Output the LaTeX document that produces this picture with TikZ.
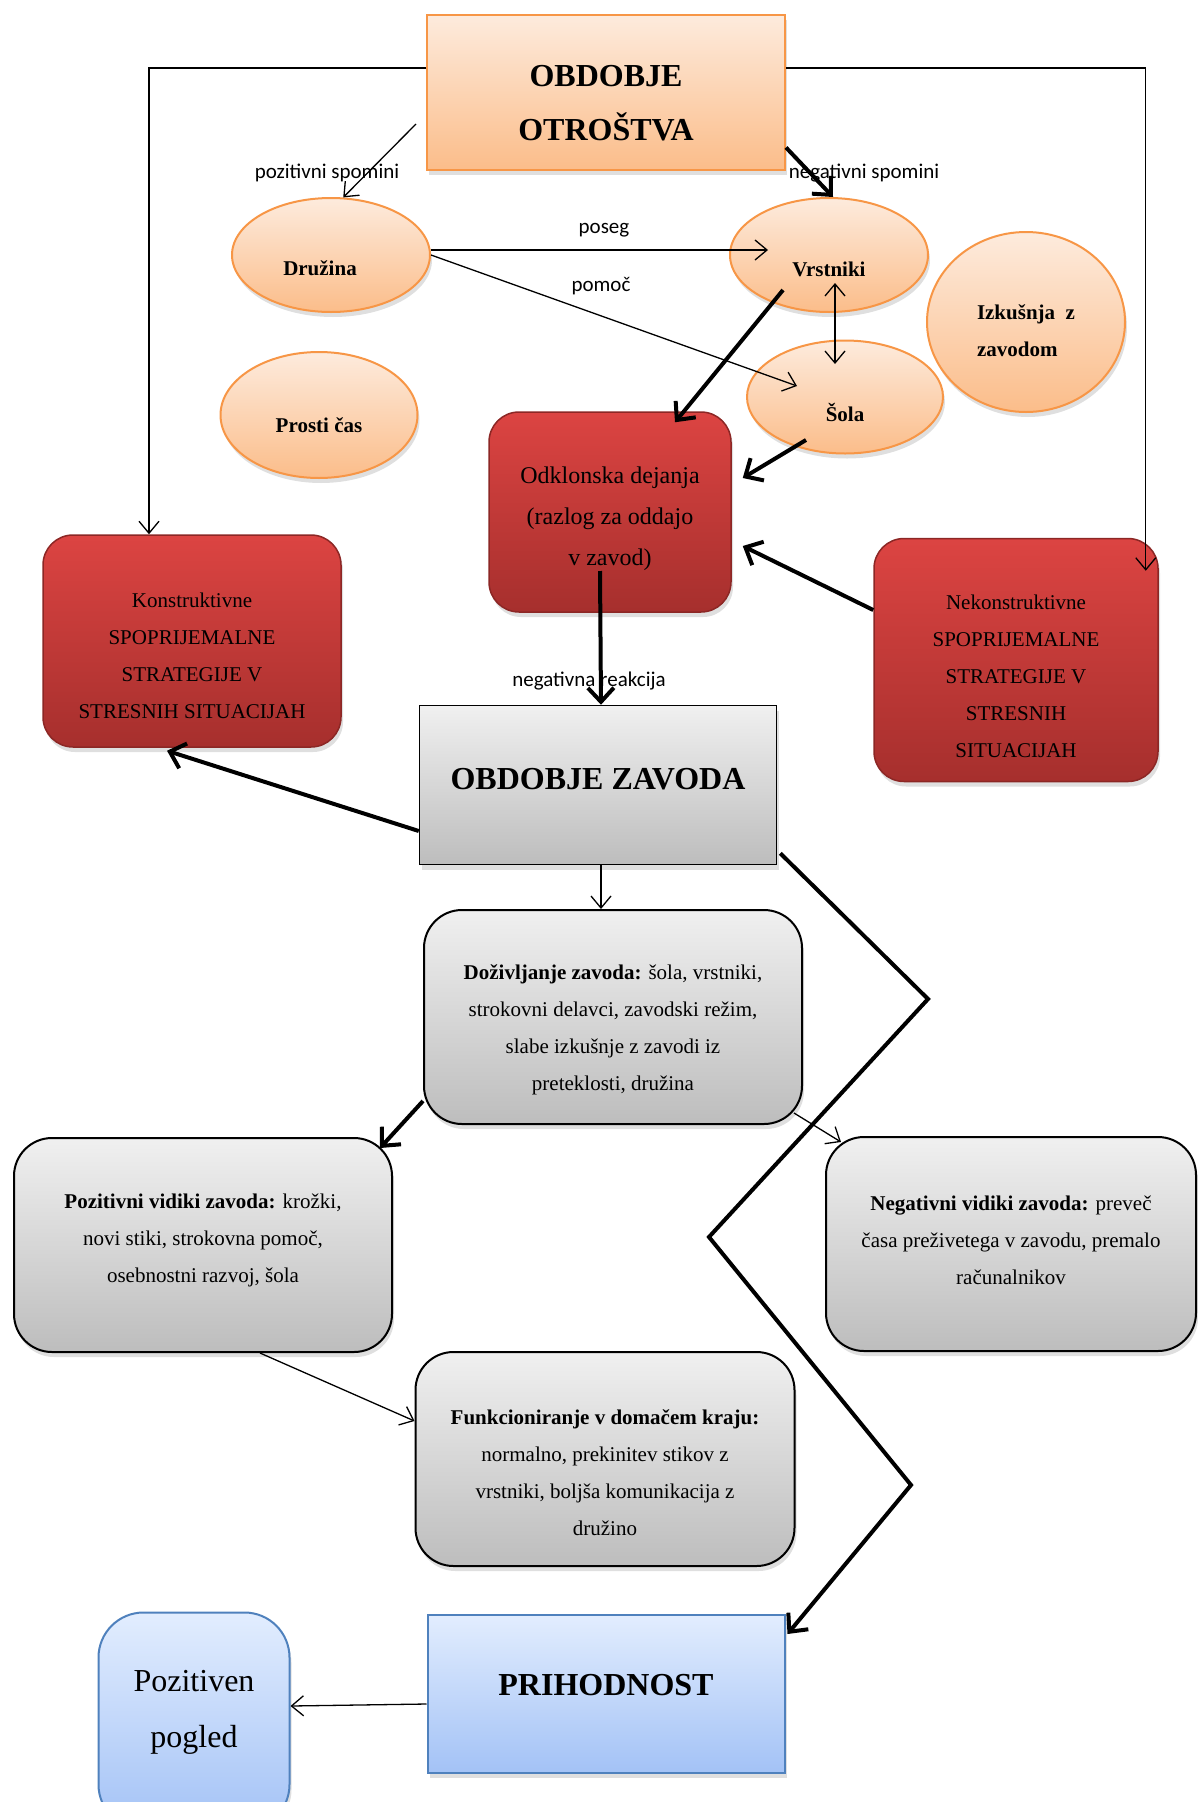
\documentclass[tikz,border=0pt]{standalone}
\usepackage{fontspec}
\setmainfont{Liberation Serif}
\newfontfamily\lblfont{Carlito}
\usetikzlibrary{shapes.geometric,arrows.meta,shadows}
\definecolor{orangetop}{HTML}{FDEBDD}
\definecolor{orangebot}{HTML}{FBBD8A}
\definecolor{orangeline}{HTML}{F79646}
\definecolor{redtop}{HTML}{DC4442}
\definecolor{redbot}{HTML}{A62F2D}
\definecolor{redline}{HTML}{8C2725}
\definecolor{graytop}{HTML}{F0F0F0}
\definecolor{graybot}{HTML}{BDBDBD}
\definecolor{bluetop}{HTML}{E2EDFE}
\definecolor{bluebot}{HTML}{A3C2F6}
\definecolor{blueline}{HTML}{4F81BD}

\begin{document}
\begin{tikzpicture}[x=1pt,y=-1pt,
    shadowed/.style={drop shadow={opacity=0.25,shadow xshift=2pt,shadow yshift=-5pt}},
    orangeell/.style={ellipse,draw=orangeline,line width=2pt,top color=orangetop,bottom color=orangebot,inner sep=0pt,shadowed},
    orangebox/.style={rectangle,draw=orangeline,line width=2pt,top color=orangetop,bottom color=orangebot,inner sep=0pt,shadowed},
    redbox/.style={rectangle,rounded corners=30pt,draw=redline,line width=1.5pt,top color=redtop,bottom color=redbot,inner sep=0pt,shadowed},
    graybox/.style={rectangle,rounded corners=38pt,draw=black,line width=2pt,top color=graytop,bottom color=graybot,inner sep=0pt,shadowed},
    grayrect/.style={rectangle,draw=black,line width=1.5pt,top color=graytop,bottom color=graybot,inner sep=0pt,shadowed},
    bluebox/.style={rectangle,draw=blueline,line width=2pt,top color=bluetop,bottom color=bluebot,inner sep=0pt,shadowed},
    elltxt/.style={font=\bfseries\fontsize{21}{37}\selectfont,align=center},
    boxtxt/.style={font=\fontsize{21}{37}\selectfont,align=center},
    bigtxt/.style={font=\bfseries\fontsize{32}{54}\selectfont,align=center},
    lbl/.style={font=\lblfont\fontsize{21}{25}\selectfont,inner sep=0pt},
    thinarr/.style={line width=1.3pt,-{Straight Barb[length=12pt,width=20pt]}},
    thinboth/.style={line width=1.3pt,{Straight Barb[length=12pt,width=20pt]}-{Straight Barb[length=12pt,width=20pt]}},
    thickarr/.style={line width=4pt,-{Straight Barb[length=14pt,width=26pt]}}]
\useasboundingbox (0,0) rectangle (1197,1802);

% obdobje otrostva
\node[orangebox,minimum width=358pt,minimum height=155pt,label={[bigtxt,yshift=-11pt]center:{OBDOBJE\\OTROŠTVA}}] (otrostva) at (606,92) {};
\node[orangeell,minimum width=198pt,minimum height=114pt,label={[elltxt,xshift=-11pt,yshift=-13pt]center:{Družina}}] (druzina) at (331,255) {};
\node[orangeell,minimum width=198pt,minimum height=114pt,label={[elltxt,yshift=-14pt]center:{Vrstniki}}] (vrstniki) at (829,255) {};
\node[orangeell,minimum width=198pt,minimum height=180pt,label={[elltxt,align=left,yshift=-9pt]center:{Izkušnja~~z\\zavodom}}] (izkusnja) at (1026,322) {};
\node[orangeell,minimum width=196pt,minimum height=113pt,label={[elltxt,yshift=-15pt]center:{Šola}}] (sola) at (845,397) {};
\node[orangeell,minimum width=197pt,minimum height=126pt,label={[elltxt,yshift=-10pt]center:{Prosti čas}}] (prosti) at (319,415) {};

\node[redbox,minimum width=242pt,minimum height=200pt,label={[boxtxt,font=\fontsize{24}{41}\selectfont,yshift=-7pt]center:{Odklonska dejanja\\(razlog za oddajo\\v zavod)}}] (odklon) at (610,512) {};
\node[redbox,minimum width=298pt,minimum height=212pt,label={[boxtxt,yshift=-15pt]center:{Konstruktivne\\SPOPRIJEMALNE\\STRATEGIJE V\\STRESNIH SITUACIJAH}}] (konstr) at (192,641) {};
\node[redbox,minimum width=284pt,minimum height=243pt,label={[boxtxt,yshift=-16pt]center:{Nekonstruktivne\\SPOPRIJEMALNE\\STRATEGIJE V\\STRESNIH\\SITUACIJAH}}] (nekonstr) at (1016,660) {};

% obdobje zavoda
\node[grayrect,minimum width=357pt,minimum height=159pt,label={[bigtxt,yshift=6pt]center:{OBDOBJE ZAVODA}}] (zavod) at (598,785) {};
\node[graybox,minimum width=378pt,minimum height=214pt,label={[boxtxt,yshift=-13pt]center:{\textbf{Doživljanje zavoda:} šola, vrstniki,\\strokovni delavci, zavodski režim,\\slabe izkušnje z zavodi iz\\preteklosti, družina}}] (doziv) at (613,1017) {};
\node[graybox,minimum width=378pt,minimum height=214pt,label={[boxtxt,yshift=5pt]center:{\textbf{Pozitivni vidiki zavoda:} krožki,\\novi stiki, strokovna pomoč,\\osebnostni razvoj, šola}}] (pozvid) at (203,1245) {};
\node[graybox,minimum width=370pt,minimum height=214pt,label={[boxtxt,yshift=4pt]center:{\textbf{Negativni vidiki zavoda:} preveč\\časa preživetega v zavodu, premalo\\računalnikov}}] (negvid) at (1011,1244) {};
\node[graybox,minimum width=379pt,minimum height=214pt,label={[boxtxt,yshift=-14pt]center:{\textbf{Funkcioniranje v domačem kraju:}\\normalno, prekinitev stikov z\\vrstniki, boljša komunikacija z\\družino}}] (funk) at (605,1459) {};

% prihodnost
\node[bluebox,minimum width=357pt,minimum height=158pt,label={[bigtxt,yshift=9pt]center:{PRIHODNOST}}] (prihod) at (606,1694) {};
\node[bluebox,rounded corners=45pt,minimum width=191pt,minimum height=217pt,label={[boxtxt,font=\fontsize{32}{56}\selectfont,yshift=9pt]center:{Pozitiven\\pogled}}] (pogled) at (194,1721) {};

% labels
\node[lbl] (pozspom) at (327,173) {pozitivni spomini};
\node[lbl] (negspom) at (864,173) {negativni spomini};
\node[lbl] (poseg) at (604,230) {poseg};
\node[lbl] (pomoc) at (601,286) {pomoč};
\node[lbl] (negreak) at (589,681) {negativna reakcija};

% connectors
\draw[thinarr] ([yshift=24pt]otrostva.west) -| ([xshift=-43pt]konstr.north);
\draw[thinarr] ([yshift=24pt]otrostva.east) -| ([xshift=-13pt,yshift=-33pt]nekonstr.north east);
\draw[thinarr] ([xshift=-10pt,yshift=-32pt]otrostva.west) -- (druzina.78);
\draw[thickarr] ([yshift=23pt]otrostva.south east) -- ([xshift=4pt]vrstniki.north);
\draw[thinarr] ([yshift=5pt]druzina.east) -- ([xshift=39pt,yshift=5pt]vrstniki.west);
\draw[thinarr] (druzina.east) -- ([xshift=51pt,yshift=11pt]sola.west);
\draw[thinboth] ([xshift=6pt,yshift=-28pt]vrstniki.center) -- ([xshift=-10pt,yshift=33pt]sola.center);
\draw[thickarr] ([xshift=-46pt,yshift=-35pt]vrstniki.center) -- ([xshift=65pt,yshift=-11pt]odklon.north);
\draw[thickarr] ([xshift=-39pt,yshift=-43pt]sola.center) -- ([xshift=11pt,yshift=34pt]odklon.east);
\draw[thickarr] ([yshift=50pt]nekonstr.west) -- ([xshift=11pt,yshift=-34pt]odklon.east);
\draw[thickarr] ([xshift=-10pt,yshift=-59pt]odklon.center) -- ([xshift=3pt]zavod.north);
\draw[thickarr] ([yshift=-46pt]zavod.west) -- ([xshift=-25pt,yshift=-3pt]konstr.south);
\draw[thinarr] ([xshift=3pt]zavod.south) -- ([xshift=-12pt]doziv.north);
\draw[thickarr] ([xshift=3pt,yshift=12pt]zavod.south east) -- (928,999) -- (709,1237) -- (911,1485) -- ([xshift=2pt,yshift=-20pt]prihod.north east);
\draw[thickarr] ([yshift=-84pt]doziv.west) -- ([xshift=-13pt,yshift=-11pt]pozvid.north east);
\draw[thinarr] ([xshift=-9pt,yshift=12pt]doziv.south east) -- ([xshift=16pt,yshift=-6pt]negvid.north west);
\draw[thinarr] ([xshift=57pt]pozvid.south) -- ([yshift=38pt]funk.west);
\draw[thinarr] ([yshift=-10pt]prihod.west) -- ([yshift=15pt]pogled.east);
\end{tikzpicture}
\end{document}
